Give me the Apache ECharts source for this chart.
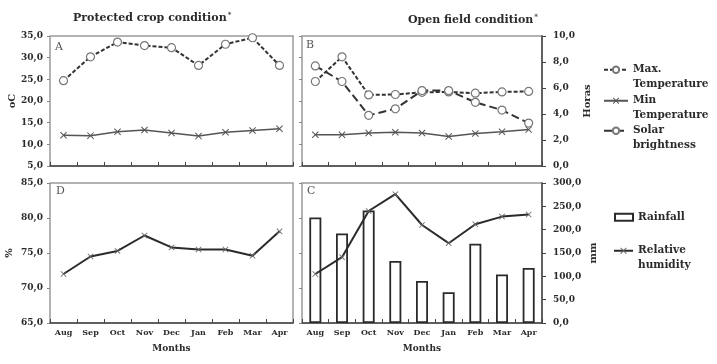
<!DOCTYPE html>
<html>
<head>
<meta charset="utf-8">
<script src="https://cdn.jsdelivr.net/npm/echarts@6/dist/echarts.min.js"></script>
<style>
  html, body { margin: 0; padding: 0; background: #fff; }
  #chart { width: 717px; height: 364px; }
</style>
</head>
<body>
<div id="chart"></div>
<script>
var months = ['Aug', 'Sep', 'Oct', 'Nov', 'Dec', 'Jan', 'Feb', 'Mar', 'Apr'];

// A - protected crop, temperature (oC)
var protMax = [24.7, 30.2, 33.6, 32.8, 32.3, 28.2, 33.1, 34.6, 28.2];
var protMin = [12.1, 12.0, 12.9, 13.3, 12.6, 11.9, 12.8, 13.2, 13.6];

// B - open field, temperature (oC) and solar brightness (hours)
var openMax = [24.5, 30.2, 21.4, 21.5, 22.0, 22.1, 21.8, 22.1, 22.2];
var openMin = [12.2, 12.2, 12.6, 12.8, 12.6, 11.8, 12.5, 12.9, 13.4];
var solar = [7.7, 6.5, 3.9, 4.4, 5.8, 5.8, 4.9, 4.3, 3.3];

// D - protected crop, relative humidity (%)
var protHum = [72.0, 74.5, 75.3, 77.5, 75.8, 75.5, 75.5, 74.6, 78.1];

// C - open field, rainfall (mm) and relative humidity (%)
var rainfall = [226, 192, 241, 133, 90, 66, 170, 104, 118];
var openHum = [72.0, 74.4, 81.0, 83.4, 79.0, 76.4, 79.1, 80.2, 80.5];

var serif = 'DejaVu Serif';
var ink = '#2b2b2b';
var xMark = 'path://M0,1 L1,0 L5,4 L9,0 L10,1 L6,5 L10,9 L9,10 L5,6 L1,10 L0,9 L4,5 Z';

function comma(v) { return v.toFixed(1).replace('.', ','); }

function monthAxis(grid, labels) {
  return {
    type: 'category', gridIndex: grid, data: months,
    axisLine: { show: true, lineStyle: { color: '#444', width: 1.5 } },
    axisTick: { show: true, inside: true, length: 4, interval: 0, lineStyle: { color: '#444' } },
    axisLabel: { show: labels, interval: 0, margin: 6, color: ink, fontFamily: serif, fontWeight: 'bold', fontSize: 8 },
    name: labels ? 'Months' : '', nameLocation: 'middle', nameGap: 21,
    nameTextStyle: { color: ink, fontFamily: serif, fontWeight: 'bold', fontSize: 9 },
    splitLine: { show: false }
  };
}

function valAxis(grid, pos, min, max, step, labels, name, nameGap, margin) {
  var right = pos === 'right';
  return {
    type: 'value', gridIndex: grid, position: pos, min: min, max: max, interval: step,
    axisLine: { show: right, lineStyle: { color: '#444', width: 1.5 } },
    axisTick: { show: true, inside: false, length: right ? 4 : 3, lineStyle: { color: right ? '#444' : '#888' } },
    axisLabel: { show: labels, margin: margin, formatter: comma, color: ink, fontFamily: serif, fontWeight: 'bold', fontSize: 9 },
    name: name, nameLocation: 'middle', nameGap: nameGap,
    nameTextStyle: { color: ink, fontFamily: serif, fontWeight: 'bold', fontSize: 10 },
    splitLine: { show: false }
  };
}

function gridBox(left, top, width, height) {
  return {
    left: left, top: top, width: width, height: height, containLabel: false, outerBoundsMode: 'none',
    show: true, borderColor: '#9a9a9a', borderWidth: 1.5, backgroundColor: '#fff'
  };
}

var maxStyle = { color: '#333', width: 2, type: [4, 2] };
var solarStyle = { color: '#333', width: 2, type: [8, 4] };
var minStyle = { color: '#555', width: 1.5 };
var circleItem = { color: '#fff', borderColor: '#777', borderWidth: 1.2 };

function legendText(name) {
  var parts = {
    'Max. Temperature': '\nMax.\nTemperature',
    'Min Temperature': '\nMin\nTemperature',
    'Solar brightness': '\nSolar\nbrightness',
    'Relative humidity': '\nRelative\nhumidity'
  };
  return parts[name] || name;
}

function legendAt(name, left, top, w, h, icon) {
  return {
    data: [icon ? { name: name, icon: icon } : name], left: left, top: top, orient: 'vertical', padding: 0,
    itemWidth: w, itemHeight: h, itemGap: 0, formatter: legendText,
    selectedMode: false,
    textStyle: { color: ink, fontFamily: serif, fontWeight: 'bold', fontSize: 10.5, lineHeight: 14.5 }
  };
}

var titleFont = { color: ink, fontFamily: serif, fontWeight: 'bold', fontSize: 11,
  rich: { s: { fontFamily: serif, fontSize: 7, color: ink, verticalAlign: 'top', padding: [0, 0, 6, 1] } } };
var letterFont = { fill: '#555', font: '11px "DejaVu Serif"' };

var myChart = echarts.init(document.getElementById('chart'));

var option = {
  animation: false,
  backgroundColor: '#fff',
  title: [
    { text: 'Protected crop condition{s|*}', left: 73, top: 12, padding: 0, textStyle: titleFont },
    { text: 'Open field condition{s|*}', left: 408, top: 14, padding: 0, textStyle: titleFont }
  ],
  graphic: [
    { type: 'text', left: 55, top: 42, style: { text: 'A', fill: letterFont.fill, font: letterFont.font } },
    { type: 'text', left: 306, top: 40, style: { text: 'B', fill: letterFont.fill, font: letterFont.font } },
    { type: 'text', left: 56, top: 186, style: { text: 'D', fill: letterFont.fill, font: letterFont.font } },
    { type: 'text', left: 307, top: 186, style: { text: 'C', fill: letterFont.fill, font: letterFont.font } }
  ],
  legend: [
    legendAt('Max. Temperature', 603, 48, 24, 8),
    legendAt('Min Temperature', 603, 79, 24, 8),
    legendAt('Solar brightness', 603, 109, 24, 8),
    legendAt('Rainfall', 614, 210, 18, 7, 'rect'),
    legendAt('Relative humidity', 613, 229, 19, 8)
  ],
  grid: [
    gridBox(50, 36, 243, 130),
    gridBox(302, 36, 240, 130),
    gridBox(50, 183, 243, 140),
    gridBox(302, 183, 240, 140)
  ],
  xAxis: [
    monthAxis(0, false),
    monthAxis(1, false),
    monthAxis(2, true),
    monthAxis(3, true)
  ],
  yAxis: [
    valAxis(0, 'left', 5, 35, 5, true, 'oC', 33, 7),
    valAxis(1, 'left', 5, 35, 5, false, '', 0, 7),
    valAxis(1, 'right', 0, 10, 2, true, 'Horas', 40, 11),
    valAxis(2, 'left', 65, 85, 5, true, '%', 36, 7),
    valAxis(3, 'left', 65, 85, 5, false, '', 0, 7),
    valAxis(3, 'right', 0, 300, 50, true, 'mm', 46, 11)
  ],
  series: [
    { name: 'Max. Temperature', type: 'line', xAxisIndex: 0, yAxisIndex: 0, data: protMax,
      symbol: 'circle', symbolSize: 8, lineStyle: maxStyle, itemStyle: circleItem, z: 3 },
    { name: 'Min Temperature', type: 'line', xAxisIndex: 0, yAxisIndex: 0, data: protMin,
      symbol: xMark, symbolSize: 7, lineStyle: minStyle, itemStyle: { color: '#555' }, z: 2 },
    { name: 'Max. Temperature', type: 'line', xAxisIndex: 1, yAxisIndex: 1, data: openMax,
      symbol: 'circle', symbolSize: 8, lineStyle: maxStyle, itemStyle: circleItem, z: 3 },
    { name: 'Min Temperature', type: 'line', xAxisIndex: 1, yAxisIndex: 1, data: openMin,
      symbol: xMark, symbolSize: 7, lineStyle: minStyle, itemStyle: { color: '#555' }, z: 2 },
    { name: 'Solar brightness', type: 'line', xAxisIndex: 1, yAxisIndex: 2, data: solar,
      symbol: 'circle', symbolSize: 8, lineStyle: solarStyle, itemStyle: circleItem, z: 3 },
    { name: 'Relative humidity', type: 'line', xAxisIndex: 2, yAxisIndex: 3, data: protHum,
      symbol: xMark, symbolSize: 6, lineStyle: { color: ink, width: 2 }, itemStyle: { color: '#666' }, z: 3 },
    { name: 'Rainfall', type: 'bar', xAxisIndex: 3, yAxisIndex: 5, data: rainfall, barWidth: 12,
      itemStyle: { color: '#fff', borderColor: ink, borderWidth: 1.8 }, z: 2 },
    { name: 'Relative humidity', type: 'line', xAxisIndex: 3, yAxisIndex: 4, data: openHum,
      symbol: xMark, symbolSize: 6, lineStyle: { color: ink, width: 2 }, itemStyle: { color: '#666' }, z: 3 }
  ]
};

myChart.setOption(option);
</script>
</body>
</html>
